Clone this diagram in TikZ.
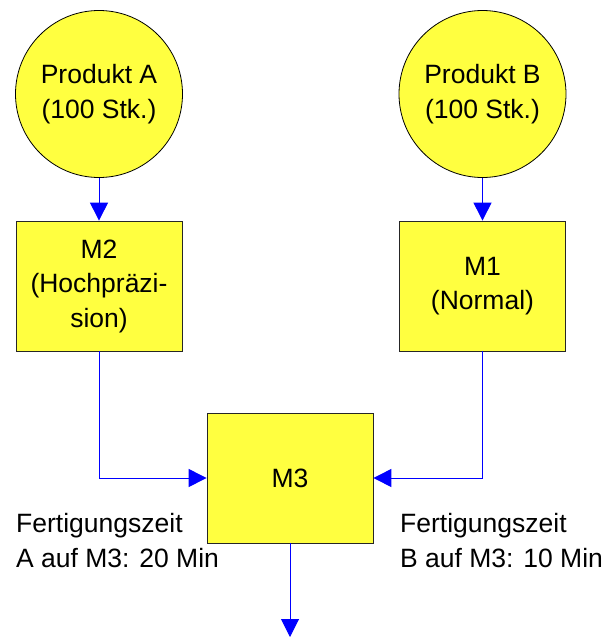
\documentclass[tikz,border=0pt]{standalone}
\usepackage{fontspec}
\setmainfont{Liberation Sans}
\usepackage{xcolor}
\usepackage{tikz}
\usetikzlibrary{arrows.meta}
\definecolor{machyellow}{RGB}{255,255,64}
\definecolor{flowblue}{RGB}{0,0,255}
\tikzstyle{produkt} = [draw=black, fill=machyellow, line width=0.8pt,
circle, minimum size=167pt, inner sep=0pt, align=center,
font=\fontsize{26.5}{34.5}\selectfont]
\tikzstyle{maschine} = [draw=black!85, fill=machyellow, line width=0.8pt,
rectangle, minimum width=166pt, minimum height=130pt, inner sep=0pt,
align=center, font=\fontsize{26.5}{34.5}\selectfont]
\tikzstyle{zeitlabel} = [inner sep=0pt, align=left,
font=\fontsize{26.5}{35}\selectfont]
\tikzstyle{flow} = [draw=flowblue, line width=1pt,
-{Triangle[length=18pt, width=18pt]}]

\begin{document}
\begin{tikzpicture}[x=1pt, y=-1pt]
        \useasboundingbox (0,0) rectangle (611,637);
        \node [produkt] (prodA) at (99,94) {Produkt A\\(100 Stk.)};
        \node [produkt] (prodB) at (482.5,94) {Produkt B\\(100 Stk.)};
        \node [maschine] (m2) at (99,286) {M2\\(Hochpräzi-\\sion)};
        \node [maschine] (m1) at (482.5,286) {M1\\(Normal)};
        \node [maschine] (m3) at (290,478) {M3};
        \coordinate (ausgang) at (290,637);
        % Zeiten auf M3
        \node [zeitlabel, anchor=base west] (zeitA) at (16,567)
            {Fertigungszeit\\A auf M3: 20 Min};
        \node [zeitlabel, anchor=base west] (zeitB) at (400,567)
            {Fertigungszeit\\B auf M3: 10 Min};
        % Materialfluss
        \draw [flow] (prodA) -- (m2);
        \draw [flow] (prodB) -- (m1);
        \draw [flow] (m2) |- (m3);
        \draw [flow] (m1) |- (m3);
        \draw [flow] (m3) -- (ausgang);
    \end{tikzpicture}
\end{document}
